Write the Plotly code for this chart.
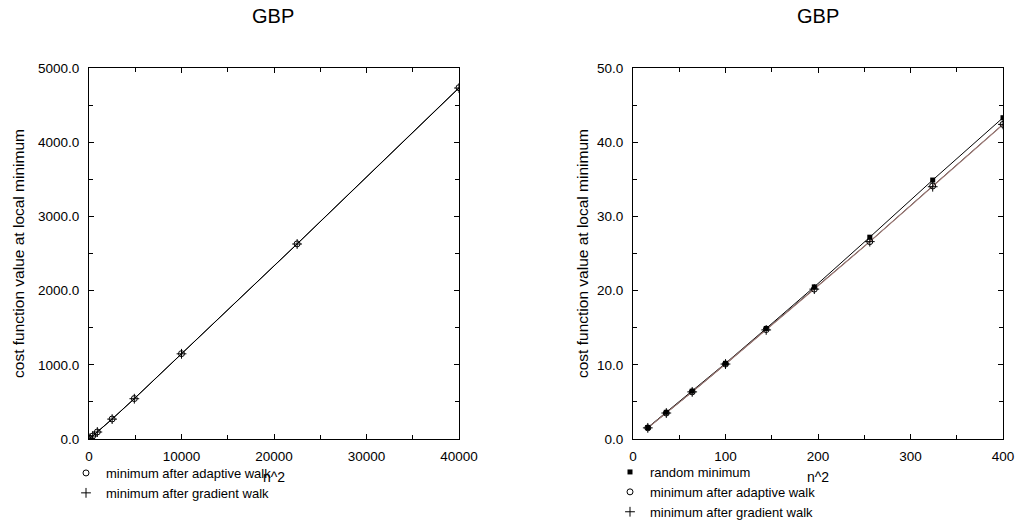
import plotly.graph_objects as go

# --- data -------------------------------------------------------------
# large systems (left panel): x = n^2
n2_large = [100, 400, 900, 2500, 4900, 10000, 22500, 40000]
adaptive_large = [9.0, 40.0, 95.0, 270.0, 545.0, 1150.0, 2630.0, 4735.0]
gradient_large = [9.0, 40.0, 94.0, 268.0, 543.0, 1148.0, 2628.0, 4730.0]

# small systems (right panel): x = n^2
n2_small = [16, 36, 64, 100, 144, 196, 256, 324, 400]
random_small = [1.55, 3.6, 6.45, 10.2, 14.9, 20.5, 27.2, 34.9, 43.3]
adaptive_small = [1.5, 3.5, 6.35, 10.1, 14.75, 20.2, 26.6, 34.1, 42.4]
gradient_small = [1.5, 3.5, 6.35, 10.1, 14.7, 20.2, 26.6, 34.0, 42.4]

panel_title = "GBP"
x_title = "n^2"
y_title = "cost function value at local minimum"
name_random = "random minimum"
name_adaptive = "minimum after adaptive walk"
name_gradient = "minimum after gradient walk"

BROWN = "#a07c78"
FONT = "Liberation Sans, Arial, sans-serif"

W, H = 1016, 523
ML, MR, MT, MB = 89, 13, 68, 84
PW, PH = W - ML - MR, H - MT - MB


def px_x(p):
    """pixel column -> paper x"""
    return (p - ML) / PW


def px_y(p):
    """pixel row -> paper y"""
    return (H - MB - p) / PH


fig = go.Figure()

# --- left panel -------------------------------------------------------
fig.add_trace(go.Scatter(x=n2_large, y=gradient_large, mode="lines",
                         line=dict(color="black", width=1), showlegend=False,
                         xaxis="x", yaxis="y", hoverinfo="skip"))
fig.add_trace(go.Scatter(x=n2_large, y=adaptive_large, mode="lines",
                         line=dict(color="black", width=1), showlegend=False,
                         xaxis="x", yaxis="y", hoverinfo="skip"))
fig.add_trace(go.Scatter(x=n2_large, y=adaptive_large, mode="markers", name=name_adaptive,
                         marker=dict(symbol="circle-open", size=6, color="black",
                                     line=dict(width=1)),
                         xaxis="x", yaxis="y", legend="legend"))
fig.add_trace(go.Scatter(x=n2_large, y=gradient_large, mode="markers", name=name_gradient,
                         marker=dict(symbol="cross-thin-open", size=7, color="black",
                                     line=dict(width=1, color="black")),
                         xaxis="x", yaxis="y", legend="legend"))

# --- right panel ------------------------------------------------------
fig.add_trace(go.Scatter(x=n2_small, y=random_small, mode="lines",
                         line=dict(color="black", width=1), showlegend=False,
                         xaxis="x2", yaxis="y2", hoverinfo="skip"))
fig.add_trace(go.Scatter(x=n2_small, y=adaptive_small, mode="lines",
                         line=dict(color="black", width=1), showlegend=False,
                         xaxis="x2", yaxis="y2", hoverinfo="skip"))
fig.add_trace(go.Scatter(x=n2_small, y=gradient_small, mode="lines",
                         line=dict(color=BROWN, width=1.2), showlegend=False,
                         xaxis="x2", yaxis="y2", hoverinfo="skip"))
fig.add_trace(go.Scatter(x=n2_small, y=random_small, mode="markers", name=name_random,
                         marker=dict(symbol="square", size=5, color="black"),
                         xaxis="x2", yaxis="y2", legend="legend2"))
fig.add_trace(go.Scatter(x=n2_small, y=adaptive_small, mode="markers", name=name_adaptive,
                         marker=dict(symbol="circle-open", size=6, color="black",
                                     line=dict(width=1)),
                         xaxis="x2", yaxis="y2", legend="legend2"))
fig.add_trace(go.Scatter(x=n2_small, y=gradient_small, mode="markers", name=name_gradient,
                         marker=dict(symbol="cross-thin-open", size=7, color="black",
                                     line=dict(width=1, color="black")),
                         xaxis="x2", yaxis="y2", legend="legend2"))

TICKFONT = dict(size=13.5, color="black", family=FONT)


def x_axis(domain, rng, dtick, minor_dtick, anchor):
    return dict(domain=domain, range=rng, anchor=anchor, dtick=dtick, tick0=0,
                automargin=False,
                showgrid=False, zeroline=False, showline=True, linecolor="black",
                linewidth=1, mirror="ticks", ticks="inside", ticklen=5,
                tickcolor="black", tickformat="d", tickfont=TICKFONT,
                ticklabelstandoff=5,
                minor=dict(ticks="inside", ticklen=4, dtick=minor_dtick,
                           tickcolor="black", showgrid=False),
                title=dict(text=x_title, standoff=8,
                           font=dict(size=14, color="black", family=FONT)))


def y_axis(domain, rng, dtick, minor_dtick, anchor, standoff):
    return dict(domain=domain, range=rng, anchor=anchor, dtick=dtick, tick0=0,
                automargin=False,
                showgrid=False, zeroline=False, showline=True, linecolor="black",
                linewidth=1, mirror="ticks", ticks="inside", ticklen=5,
                tickcolor="black", tickformat=".1f", tickfont=TICKFONT,
                ticklabelstandoff=6,
                minor=dict(ticks="inside", ticklen=4, dtick=minor_dtick,
                           tickcolor="black", showgrid=False),
                title=dict(text=y_title, standoff=standoff,
                           font=dict(size=15.5, color="black", family=FONT)))


legend_common = dict(xanchor="left", yanchor="top", bgcolor="rgba(0,0,0,0)",
                     font=dict(size=13, color="black", family=FONT),
                     itemwidth=30, tracegroupgap=0, orientation="v")

fig.update_layout(
    width=W, height=H,
    margin=dict(l=ML, r=MR, t=MT, b=MB, autoexpand=False),
    paper_bgcolor="white", plot_bgcolor="white",
    font=dict(family=FONT, color="black"),
    xaxis=x_axis([0, px_x(459)], [0, 40000], 10000, 5000, "y"),
    yaxis=y_axis([0, 1], [0, 5000], 1000, 500, "x", 9),
    xaxis2=x_axis([px_x(633), 1], [0, 400], 100, 50, "y2"),
    yaxis2=y_axis([0, 1], [0, 50], 10, 5, "x2", 4),
    legend=dict(x=px_x(66), y=px_y(458), **legend_common),
    legend2=dict(x=px_x(610), y=px_y(457), **legend_common),
    annotations=[
        dict(text=panel_title, x=px_x(273), y=px_y(16), xref="paper", yref="paper",
             xanchor="center", yanchor="middle", showarrow=False,
             font=dict(size=20, color="black", family=FONT)),
        dict(text=panel_title, x=px_x(818), y=px_y(16), xref="paper", yref="paper",
             xanchor="center", yanchor="middle", showarrow=False,
             font=dict(size=20, color="black", family=FONT)),
    ],
    showlegend=True,
)

fig.write_html("out.html")
